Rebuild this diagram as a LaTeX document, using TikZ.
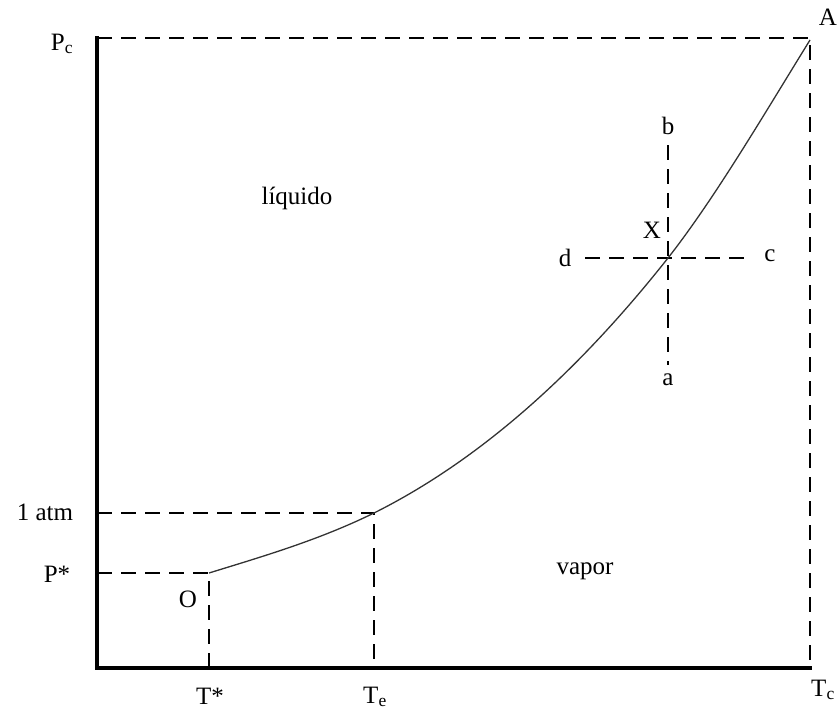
\documentclass[tikz,border=0pt]{standalone}
\usepackage{fontspec}
\setmainfont{Liberation Serif}
\begin{document}
\begin{tikzpicture}[x=1pt,y=-1pt,
  lbl/.style={inner sep=0pt,font=\fontsize{25}{28}\selectfont},
  dsh/.style={line width=1.6pt,dash pattern=on 15pt off 9pt},
  axis/.style={line width=3.5pt,line cap=rect},
  curveline/.style={line width=1.3pt,draw=black!80}]
\useasboundingbox (0,0) rectangle (838,710);
% key points
\coordinate (orig) at (97,668);
\coordinate (top) at (97,38);
\coordinate (right) at (810,668);
\coordinate (A) at (810,38);
\coordinate (O) at (209,573);
\coordinate (E) at (374,513);
\coordinate (X) at (668,258);
\coordinate (Tstar) at (209,668);
\coordinate (Te) at (374,668);
\coordinate (Pstar) at (97,573);
\coordinate (atm) at (97,513);
\coordinate (xb) at (668,145);
\coordinate (xa) at (668,365);
\coordinate (xd) at (585,258);
\coordinate (xc) at (752,258);
% dashed guides
\draw[dsh] (top) -- (A) -- (right);
\draw[dsh] (atm) -- (E) -- (Te);
\draw[dsh] (Pstar) -- (O) -- (Tstar);
\draw[dsh] (xb) -- (xa);
\draw[dsh] (xd) -- (xc);
% axes
\draw[axis] (top) -- (orig) -- (right);
% curve
\draw[curveline] (O) .. controls (264,556) and (319,540) .. (E)
  .. controls (472,464) and (570,382) .. (X)
  .. controls (715,198) and (763,116) .. (810,40);
% labels
\node[lbl] (lPc) at (62,44) {P\textsubscript{c}};
\node[lbl] (lA) at (828,17) {A};
\node[lbl] (lTs) at (210,696) {T*};
\node[lbl] (lTe) at (375,697) {T\textsubscript{e}};
\node[lbl] (lTc) at (823,690) {T\textsubscript{c}};
\node[lbl] (l1atm) at (45,512) {1 atm};
\node[lbl] (lPs) at (57,574) {P*};
\node[lbl] (lO) at (188,599) {O};
\node[lbl] (lliq) at (297,198) {líquido};
\node[lbl] (lvap) at (585,571) {vapor};
\node[lbl] (lX) at (652,230) {X};
\node[lbl] (lb) at (668,126) {b};
\node[lbl] (la) at (668,380) {a};
\node[lbl] (ld) at (565,258) {d};
\node[lbl] (lc) at (770,256) {c};
\end{tikzpicture}
\end{document}
